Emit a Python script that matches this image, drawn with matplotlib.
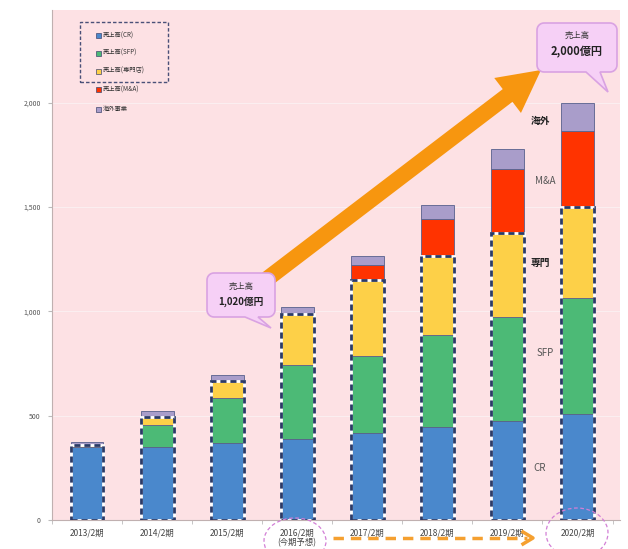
import numpy as np
import matplotlib.pyplot as plt
from matplotlib.patches import Rectangle, Polygon, Ellipse, FancyArrow
from matplotlib.lines import Line2D

plt.rcParams['font.family'] = ['Noto Sans CJK JP', 'DejaVu Sans']

periods = ['2013/2期', '2014/2期', '2015/2期', '2016/2期\n(今期予想)',
           '2017/2期', '2018/2期', '2019/2期', '2020/2期']
cr = [350, 351, 367, 386, 417, 447, 476, 508]
sfp = [0, 106, 218, 358, 370, 438, 497, 558]
senmon = [10, 38, 80, 242, 365, 379, 405, 433]
ma = [0, 0, 0, 0, 69, 177, 303, 365]
kaigai = [12, 26, 31, 35, 45, 67, 98, 136]

series_names = ['売上高(CR)', '売上高(SFP)', '売上高(専門店)', '売上高(M&A)', '海外事業']
side_labels = ['CR', 'SFP', '専門', 'M&A', '海外']
colors = ['#4a88cc', '#4cba76', '#fdd048', '#ff3300', '#a99dca']

W, H = 628, 549
fig = plt.figure(figsize=(W / 100, H / 100), dpi=100)
ax = fig.add_axes([52 / W, 1 - 520 / H, (620 - 52) / W, (520 - 10) / H])
ax.set_facecolor('#fde1e4')


def pt(x, y):
    # pixel position (origin top-left) -> inches for dpi_scale_trans
    return (x / 100, (H - y) / 100)


x = np.arange(len(periods))
width = 0.47
bottom = np.zeros(len(periods))
for vals, color in zip([cr, sfp, senmon, ma, kaigai], colors):
    vals = np.array(vals, dtype=float)
    ax.bar(x, vals, width, bottom=bottom, color=color,
           edgecolor='#58608c', linewidth=0.6, zorder=2)
    bottom += vals

# dashed outline around the domestic core (CR + SFP + 専門店)
core = np.array(cr) + np.array(sfp) + np.array(senmon)
for xi, h in zip(x, core):
    ax.add_patch(Rectangle((xi - width / 2, 0), width, h, fill=False,
                           edgecolor='white', linewidth=2.0, zorder=3))
    ax.add_patch(Rectangle((xi - width / 2, 0), width, h, fill=False,
                           edgecolor='#2c3a66', linewidth=2.0,
                           linestyle=(0, (2.2, 1.4)), zorder=4))

ax.set_xlim(-0.484, 7.607)
ax.set_ylim(0, 2445)
ax.set_xticks(x)
ax.set_xticklabels(periods, fontsize=6, color='#444444', linespacing=1.1)
ax.set_xticks(np.arange(-0.5, len(periods), 1), minor=True)
ax.tick_params(axis='x', which='major', length=0, pad=6)
ax.tick_params(axis='x', which='minor', length=3, color='#bbbbbb')
yt = [0, 500, 1000, 1500, 2000]
ax.set_yticks(yt)
ax.set_yticklabels([f'{v:,}' for v in yt], fontsize=5, color='#555555')
ax.tick_params(axis='y', length=3, color='#bbbbbb', pad=5)
ax.yaxis.grid(True, color='#fbeef0', linewidth=0.8)
ax.set_axisbelow(True)
for s in ['top', 'right']:
    ax.spines[s].set_visible(False)
for s in ['left', 'bottom']:
    ax.spines[s].set_color('#c0b0b0')
    ax.spines[s].set_linewidth(0.8)

tr = fig.dpi_scale_trans

# legend
rows = [36, 53, 71, 90, 109]
for name, color, ry in zip(series_names, colors, rows):
    fig.add_artist(Rectangle(pt(95.5, ry + 2.5), 0.05, 0.05, transform=tr,
                             facecolor=color, edgecolor='#404870', linewidth=0.5))
    fig.text(*pt(103, ry), name, transform=tr, fontsize=4.5, color='#333333',
             va='center', ha='left')
fig.add_artist(Rectangle(pt(80, 82), 0.88, 0.60, transform=tr, fill=False,
                         edgecolor='#4a5078', linewidth=1.0,
                         linestyle=(0, (2.5, 1.5))))

# segment names beside the last bar
side_pos = [(540, 468), (545, 353), (540, 263), (545, 181), (540, 121)]
for lab, (sx, sy) in zip(side_labels, side_pos):
    bold = lab in ('専門', '海外')
    fig.text(*pt(sx, sy), lab, transform=tr, fontsize=7, ha='center', va='center',
             color='#222222' if bold else '#555555',
             fontweight='bold' if bold else 'normal')


def bubble(x0, y0, x1, y1, b1, b2, tip, r=7):
    pts = []

    def arc(cx, cy, a0, a1):
        for t in np.linspace(a0, a1, 8):
            pts.append((cx + r * np.cos(t), cy + r * np.sin(t)))

    arc(x1 - r, y0 + r, -np.pi / 2, 0)
    arc(x1 - r, y1 - r, 0, np.pi / 2)
    pts.extend([(b2, y1), tip, (b1, y1)])
    arc(x0 + r, y1 - r, np.pi / 2, np.pi)
    arc(x0 + r, y0 + r, np.pi, 1.5 * np.pi)
    fig.add_artist(Polygon([pt(px, py) for px, py in pts], closed=True,
                           transform=tr, facecolor='#f6d0f6',
                           edgecolor='#d9a2e2', linewidth=1.2, zorder=5))


# growth arrow
s, e = pt(267, 279), pt(541, 70)
fig.add_artist(FancyArrow(s[0], s[1], e[0] - s[0], e[1] - s[1], width=0.16,
                          head_width=0.44, head_length=0.42,
                          length_includes_head=True, transform=tr,
                          facecolor='#f7960f', edgecolor='none', zorder=4))

total_2016 = cr[3] + sfp[3] + senmon[3] + ma[3] + kaigai[3]
total_2020 = cr[7] + sfp[7] + senmon[7] + ma[7] + kaigai[7]

bubble(207, 273, 275, 317, 245, 258, (271, 328))
fig.text(*pt(241, 286), '売上高', transform=tr, fontsize=6, ha='center',
         va='center', color='#333333', zorder=6)
fig.text(*pt(241, 302), f'{round(total_2016, -1):,.0f}億円', transform=tr,
         fontsize=7, fontweight='bold', ha='center', va='center',
         color='#222222', zorder=6)

bubble(537, 23, 617, 72, 586, 600, (608, 92))
fig.text(*pt(577, 35), '売上高', transform=tr, fontsize=6, ha='center',
         va='center', color='#333333', zorder=6)
fig.text(*pt(577, 52), f'{total_2020:,}億円', transform=tr, fontsize=8,
         fontweight='bold', ha='center', va='center', color='#222222', zorder=6)

# dashed orange arrow under the forecast periods
fig.add_artist(Line2D([3.33, 5.27], [pt(0, 538)[1]] * 2, transform=tr,
                      color='#f5a030', linewidth=2.5, linestyle=(0, (3, 2))))
hx, hy = pt(533, 538)
fig.add_artist(Line2D([hx - 0.1, hx, hx - 0.1], [hy + 0.06, hy, hy - 0.06],
                      transform=tr, color='#f5a030', linewidth=2.5))

# dashed ellipses marking current forecast and target year
for cx, cy, ew, eh in [(295, 541, 62, 46), (577, 533, 62, 50)]:
    fig.add_artist(Ellipse(pt(cx, cy), ew / 100, eh / 100, transform=tr,
                           fill=False, edgecolor='#d27fd6', linewidth=0.9,
                           linestyle=(0, (3, 2))))

fig.savefig('out.png', dpi=100, facecolor='white')
